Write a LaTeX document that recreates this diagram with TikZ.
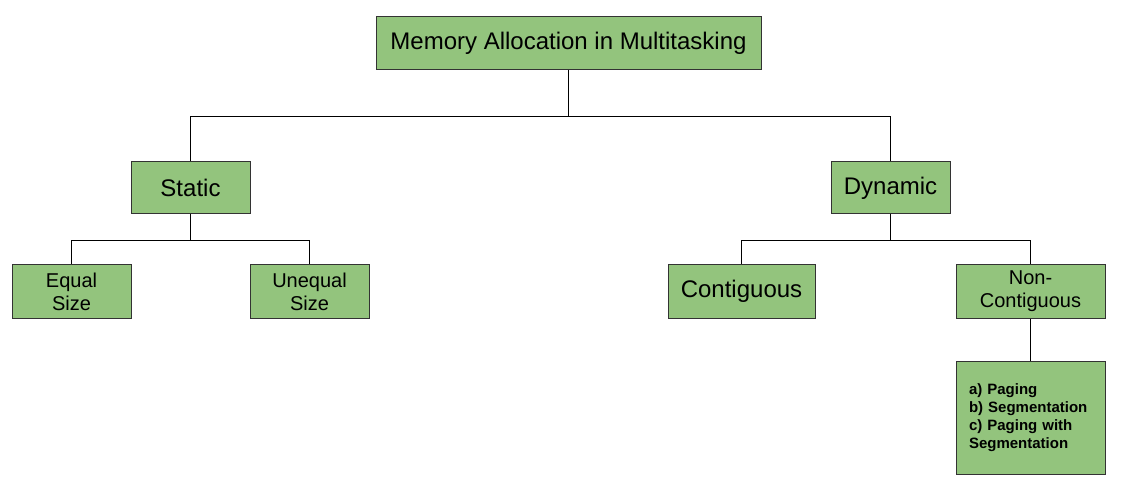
\documentclass[tikz,border=0pt]{standalone}
\usepackage{fontspec}
\setmainfont{Liberation Sans}
\usepackage{xcolor}
\usepackage{tikz}
\usetikzlibrary{positioning}

\definecolor{boxgreen}{HTML}{93C47D}
\definecolor{boxline}{HTML}{333333}

\begin{document}
\begin{tikzpicture}[
      x=1pt, y=-1pt,
      category/.style={
        rectangle,
        draw=boxline,
        line width=1pt,
        fill=boxgreen,
        text=black,
        inner sep=0pt,
        align=center
      },
      bigtext/.style={font=\fontsize{24}{28}\selectfont},
      smalltext/.style={font=\fontsize{20}{23}\selectfont},
      listtext/.style={font=\bfseries\fontsize{15}{18}\selectfont, align=left},
      link/.style={
        line width=1.1pt,
        draw=black
      }
    ]
    \useasboundingbox (0,0) rectangle (1121,486);

    % Root Node
    \node (memAlloc) [category, bigtext, minimum width=385pt, minimum height=53pt] at (568.5,43.5) {Memory Allocation in Multitasking};

    % Static Nodes
    \node (static) [category, bigtext, minimum width=119pt, minimum height=52pt] at (190.5,188) {Static};
    \node (equalSize) [category, smalltext, minimum width=119pt, minimum height=53pt] at (71.5,291.5) {Equal\\Size};
    \node (unequalSize) [category, smalltext, minimum width=119pt, minimum height=53pt] at (309.5,291.5) {Unequal\\Size};

    % Dynamic Nodes
    \node (dynamic) [category, bigtext, minimum width=119pt, minimum height=52pt] at (890.5,188) {Dynamic};
    \node (contiguous) [category, bigtext, minimum width=147pt, minimum height=53pt] at (741.5,291.5) {Contiguous};
    \node (nonContiguous) [category, smalltext, minimum width=149pt, minimum height=53pt] at (1030.5,291.5) {Non-\\Contiguous};
    \node (nonContList) [category, listtext, minimum width=149pt, minimum height=113pt, text width=123pt, below=42pt of nonContiguous] {a) Paging\\b) Segmentation\\c) Paging with\\Segmentation};

    % Connectors from Root
    \draw [link] (memAlloc.south) -- ++(0,46) -| (static.north);
    \draw [link] (memAlloc.south) -- ++(0,46) -| (dynamic.north);

    % Connectors for Static
    \draw [link] (static.south) -- ++(0,26) -| (equalSize.north);
    \draw [link] (static.south) -- ++(0,26) -| (unequalSize.north);

    % Connectors for Dynamic
    \draw [link] (dynamic.south) -- ++(0,26) -| (contiguous.north);
    \draw [link] (dynamic.south) -- ++(0,26) -| (nonContiguous.north);
    \draw [link] (nonContiguous.south) -- (nonContList.north);

\end{tikzpicture}
\end{document}
